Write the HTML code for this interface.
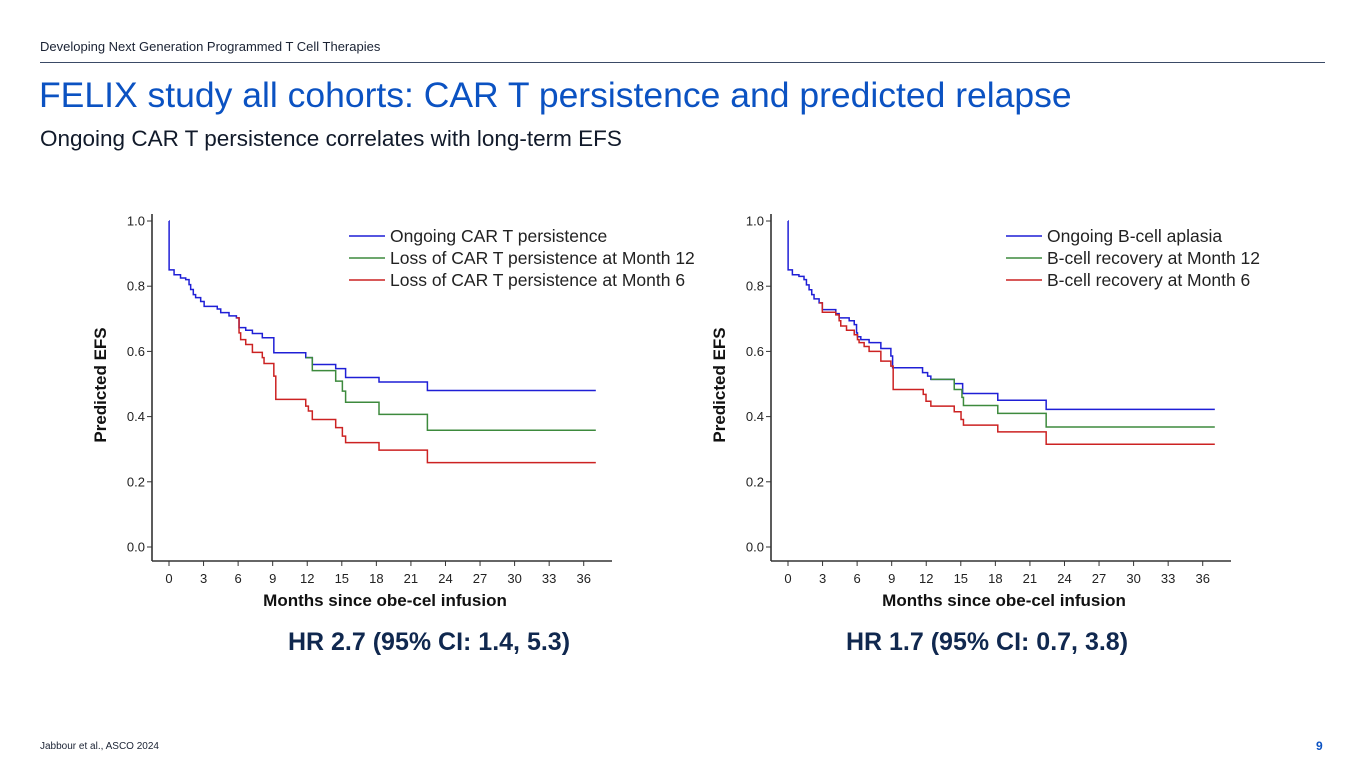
<!DOCTYPE html>
<html><head><meta charset="utf-8">
<style>
body{margin:0;width:1365px;height:768px;background:#fff;font-family:"Liberation Sans",sans-serif;overflow:hidden;position:relative}
.abs{position:absolute;white-space:nowrap}
</style></head><body>
<div class="abs" style="left:40px;top:39px;font-size:13px;color:#1a2233">Developing Next Generation Programmed T Cell Therapies</div>
<div class="abs" style="left:40px;top:62px;width:1285px;height:1px;background:#3a4a66"></div>
<div class="abs" style="left:39px;top:75px;font-size:35.5px;color:#0b52c2">FELIX study all cohorts: CAR T persistence and predicted relapse</div>
<div class="abs" style="left:40px;top:126px;font-size:22.5px;color:#111a2a">Ongoing CAR T persistence correlates with long-term EFS</div>
<svg id="chart" width="1365" height="768" style="position:absolute;left:0;top:0" font-family="Liberation Sans, sans-serif"></svg>
<div class="abs" style="left:40px;top:741px;font-size:10px;color:#1a2233">Jabbour et al., ASCO 2024</div>
<div class="abs" style="left:1316px;top:739px;font-size:12px;font-weight:bold;color:#0b52c2">9</div>
<script>
const xTicks=[0,3,6,9,12,15,18,21,24,27,30,33,36];
const yTicks=[0,0.2,0.4,0.6,0.8,1.0];
const legendA=["Ongoing CAR T persistence","Loss of CAR T persistence at Month 12","Loss of CAR T persistence at Month 6"];
const legendB=["Ongoing B-cell aplasia","B-cell recovery at Month 12","B-cell recovery at Month 6"];
const colors=["#1f1fd6","#3d8a3d","#cc2222"];
// Left chart series: times (months) and survival
const aBlueT=[0,0.01,0.44,1.0,1.45,1.74,1.88,2.11,2.31,2.75,3.05,4.19,4.49,5.21,5.85,6.08,6.66,7.24,8.1,9.1,11.87,12.44,14.47,15.33,18.23,22.43,37.05];
const aBlueS=[1,0.85,0.835,0.825,0.82,0.805,0.79,0.774,0.765,0.753,0.738,0.73,0.719,0.709,0.703,0.673,0.665,0.655,0.642,0.596,0.581,0.56,0.547,0.52,0.506,0.48,0.48];
const aGreenT=[11.87,12.44,14.47,15.05,15.33,18.23,22.43,37.05];
const aGreenS=[0.581,0.541,0.509,0.478,0.444,0.407,0.358,0.358];
const aRedT=[5.85,6.08,6.22,6.66,7.24,8.1,8.25,9.1,9.27,11.87,12.1,12.44,14.47,15.05,15.33,18.23,22.43,37.05];
const aRedS=[0.703,0.657,0.636,0.621,0.597,0.581,0.563,0.524,0.453,0.432,0.417,0.391,0.366,0.34,0.32,0.297,0.259,0.259];
// Right chart series
const bBlueT=[0,0.01,0.38,0.95,1.39,1.6,1.83,2.06,2.26,2.7,2.98,4.15,4.44,5.31,5.75,5.95,6.03,6.32,7.04,8.06,8.93,9.08,11.68,12.12,12.4,14.43,15.16,18.21,22.41,37.05];
const bBlueS=[1,0.85,0.835,0.83,0.82,0.804,0.789,0.774,0.761,0.749,0.728,0.716,0.703,0.694,0.682,0.657,0.645,0.636,0.627,0.609,0.586,0.55,0.535,0.524,0.514,0.501,0.471,0.45,0.422,0.422];
const bGreenT=[12.4,14.43,15.1,15.23,18.21,22.41,37.05];
const bGreenS=[0.514,0.483,0.459,0.434,0.41,0.368,0.368];
const bRedT=[2.7,2.98,4.15,4.44,4.58,5.08,5.75,6.03,6.17,6.61,7.04,8.06,8.93,9.13,11.74,11.98,12.4,14.43,15.02,15.23,18.21,22.41,37.05];
const bRedS=[0.749,0.72,0.712,0.694,0.678,0.665,0.651,0.636,0.627,0.615,0.6,0.57,0.555,0.483,0.468,0.447,0.432,0.415,0.391,0.374,0.353,0.315,0.315];

const NS="http://www.w3.org/2000/svg";
const svg=document.getElementById('chart');
function mk(tag,attrs,parent){const e=document.createElementNS(NS,tag);for(const k in attrs)e.setAttribute(k,attrs[k]);(parent||svg).appendChild(e);return e;}

function drawChart(ox,legend,series,legX,hr,hrX,prefix){
  const x0=ox+17, pxPerMonth=11.52, y0=547, pxPerUnit=326;
  const xs=t=>x0+t*pxPerMonth, ys=s=>y0-s*pxPerUnit;
  const g=mk('g',{});
  
  
  const ya=mk('line',{x1:ox,y1:214,x2:ox,y2:561,stroke:'#333','stroke-width':1.6},g);
  
  
  const xa=mk('line',{x1:ox,y1:561,x2:ox+460,y2:561,stroke:'#333','stroke-width':1.6},g);
  
  
  yTicks.forEach(v=>{
    mk('line',{x1:ox-5,y1:ys(v),x2:ox,y2:ys(v),stroke:'#333','stroke-width':1},g);
    const t=mk('text',{x:ox-7,y:ys(v)+4.5,'font-size':13,'text-anchor':'end',fill:'#222'},g);
    t.textContent=v.toFixed(1);
    
    
  });
  xTicks.forEach(v=>{
    mk('line',{x1:xs(v),y1:561,x2:xs(v),y2:566,stroke:'#333','stroke-width':1},g);
    const t=mk('text',{x:xs(v),y:583,'font-size':13,'text-anchor':'middle',fill:'#222'},g);
    t.textContent=v;
    
    
  });
  const xt=mk('text',{x:ox+233,y:606,'font-size':17,'font-weight':'bold','text-anchor':'middle',fill:'#111'},g);
  xt.textContent='Months since obe-cel infusion';
  
  
  const yt=mk('text',{x:0,y:0,'font-size':17,'font-weight':'bold','text-anchor':'middle',fill:'#111',transform:`translate(${ox-46},385) rotate(-90)`},g);
  yt.textContent='Predicted EFS';
  
  
  series.forEach((sr,i)=>{
    const [T,S]=sr; let d=`M${xs(T[0])},${ys(S[0])}`;
    for(let k=1;k<T.length;k++){d+=` H${xs(T[k])} V${ys(S[k])}`;}
    const p=mk('path',{d:d,fill:'none',stroke:colors[i],'stroke-width':1.5},g);
    
    
  });
  legend.forEach((l,i)=>{
    const y=236+i*22;
    mk('line',{x1:legX,y1:y,x2:legX+36,y2:y,stroke:colors[i],'stroke-width':1.5},g);
    const t=mk('text',{x:legX+41,y:y+6,'font-size':17.5,fill:'#222'},g);
    t.textContent=l;
    
    
  });
  const h=mk('text',{x:hrX,y:650,'font-size':25,'font-weight':'bold','text-anchor':'middle',fill:'#10284f'},g);
  h.textContent=hr;
  
  
}
drawChart(152,legendA,[[aBlueT,aBlueS],[aGreenT,aGreenS],[aRedT,aRedS]],349,'HR 2.7 (95% CI: 1.4, 5.3)',429,'car-t');
drawChart(771,legendB,[[bBlueT,bBlueS],[bGreenT,bGreenS],[bRedT,bRedS]],1006,'HR 1.7 (95% CI: 0.7, 3.8)',987,'b-cell');
</script>
</body></html>
